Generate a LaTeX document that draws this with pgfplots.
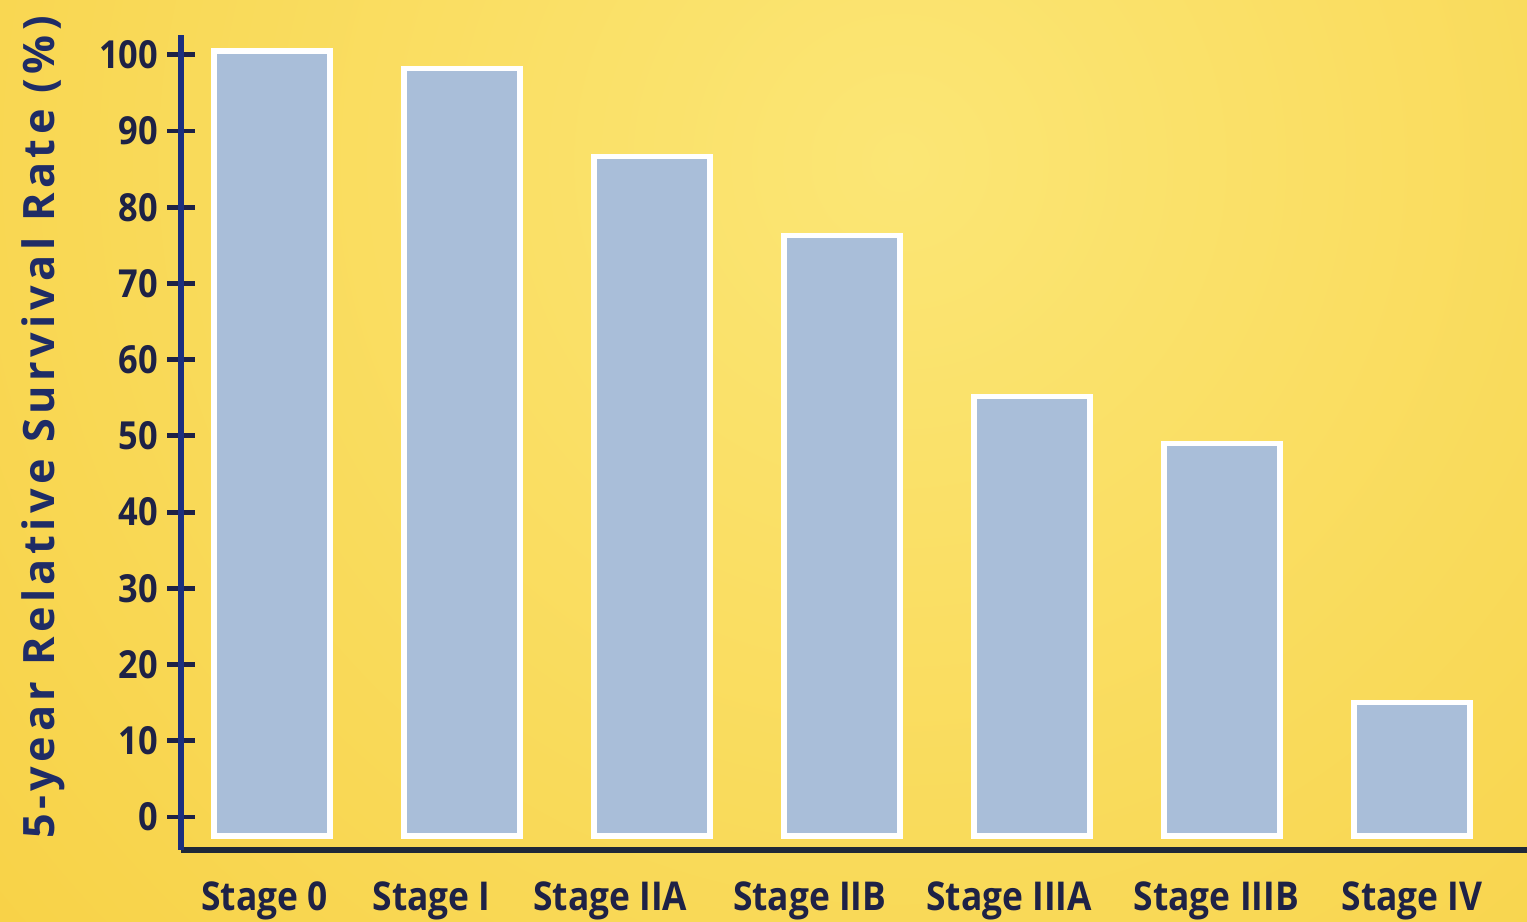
\documentclass[border=0pt]{standalone}
\usepackage{fontspec}
\setmainfont{Open Sans}[BoldFont={* Bold}]
\newfontfamily\condbold{Open Sans Bold}[FakeStretch=0.89]
\newfontfamily\labfont{Open Sans Bold}[LetterSpace=10.5]
\usepackage{pgfplots}
\pgfplotsset{compat=1.18}
\definecolor{bgin}{HTML}{FBE675}
\definecolor{bgout}{HTML}{F6C62C}
\definecolor{barfill}{HTML}{A9BED9}
\definecolor{navy}{HTML}{1B2F7E}
\definecolor{txt}{HTML}{1E2246}
\definecolor{ylab}{HTML}{1F2C66}
\definecolor{xaxis}{HTML}{1F2838}
\begin{document}
\begin{tikzpicture}
\useasboundingbox (0,0) rectangle (15.27,9.22);
\begin{scope}
\clip (0,0) rectangle (15.27,9.22);
\shade[inner color=bgin, outer color=bgout] (9.0,7.6) circle (19cm);
\end{scope}
\begin{axis}[
  at={(1.81cm,0.72cm)},
  scale only axis, width=13.46cm, height=8.15cm,
  xmin=-0.479, xmax=6.605, ymin=-4.33, ymax=102.6,
  anchor=south west,
  axis x line=bottom, axis y line=left,
  x axis line style={-, line width=1.5pt, draw=xaxis},
  y axis line style={-, line width=1.5pt, draw=navy},
  ytick={0,10,...,100},
  xtick={-0.04,0.84,1.78,2.83,3.88,4.97,6.0},
  xticklabels={Stage 0,Stage I,Stage IIA,Stage IIB,Stage IIIA,Stage IIIB,Stage IV},
  tick align=center,
  major tick length=0.27cm,
  ytick style={line width=1.4pt, draw=txt},
  xtick style={draw=none},
  /pgf/number format/assume math mode=true,
  yticklabel style={font=\fontsize{11}{12}\condbold, text=txt, xshift=0.03cm},
  xticklabel style={font=\fontsize{11.3}{12}\condbold, text=txt, yshift=-0.06cm},
  ylabel={5-year Relative Survival Rate (\%)},
  ylabel style={font=\fontsize{12.3}{14}\labfont, text=ylab, xshift=0.15cm},
  ylabel shift=0.1cm,
  barsty/.style={fill=barfill, draw=white, line width=1.5pt, line join=miter},
]
\addplot[barsty] coordinates {(-0.305,-2.5) (-0.305,100.5) (0.305,100.5) (0.305,-2.5)} -- cycle;
\addplot[barsty] coordinates {(0.695,-2.5) (0.695,98.2) (1.305,98.2) (1.305,-2.5)} -- cycle;
\addplot[barsty] coordinates {(1.695,-2.5) (1.695,86.7) (2.305,86.7) (2.305,-2.5)} -- cycle;
\addplot[barsty] coordinates {(2.695,-2.5) (2.695,76.3) (3.305,76.3) (3.305,-2.5)} -- cycle;
\addplot[barsty] coordinates {(3.695,-2.5) (3.695,55.2) (4.305,55.2) (4.305,-2.5)} -- cycle;
\addplot[barsty] coordinates {(4.695,-2.5) (4.695,49) (5.305,49) (5.305,-2.5)} -- cycle;
\addplot[barsty] coordinates {(5.695,-2.5) (5.695,15) (6.305,15) (6.305,-2.5)} -- cycle;
\end{axis}
\end{tikzpicture}
\end{document}
